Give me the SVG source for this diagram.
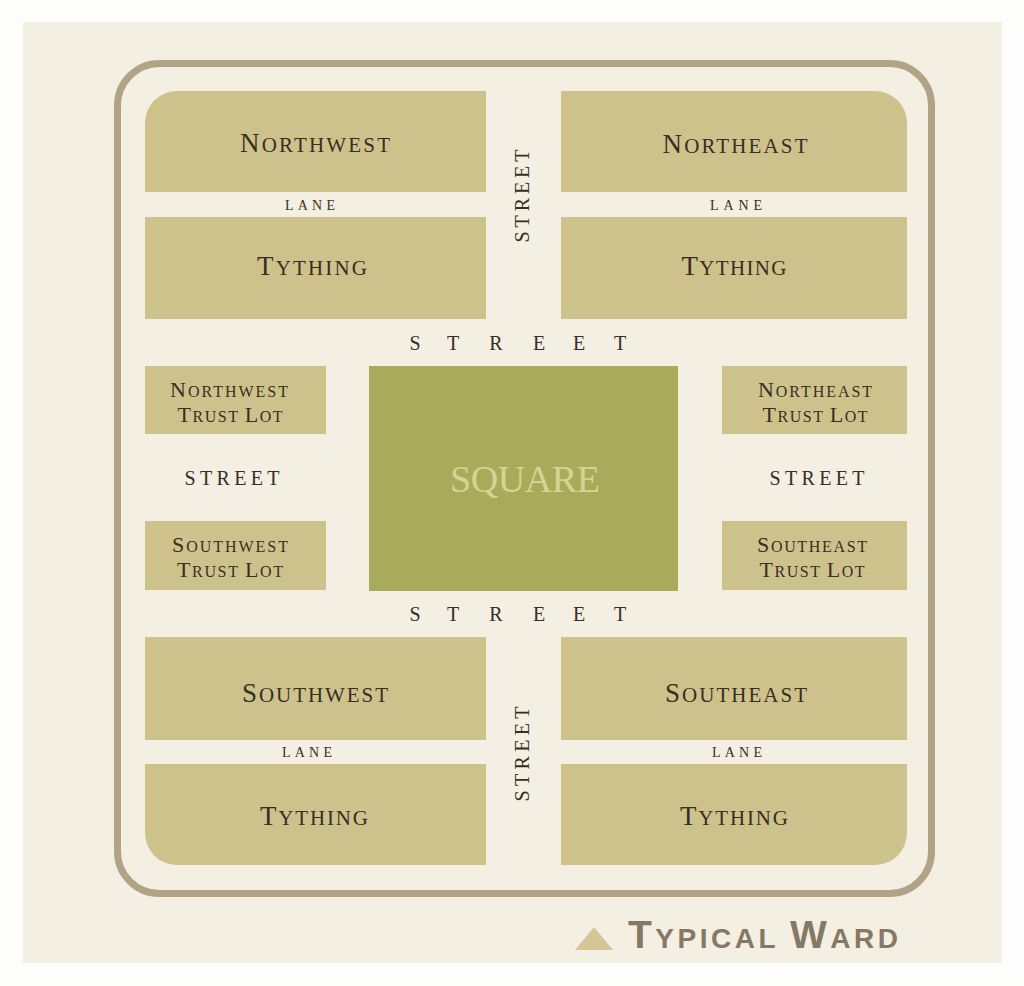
<svg xmlns="http://www.w3.org/2000/svg" width="1024" height="986" viewBox="0 0 1024 986">
<style>
.blk{fill:#cdc28c}
.lbl{font-family:"Liberation Serif",serif;fill:#3a2e22;text-anchor:middle}
.big{font-size:27px}
.sm{font-size:21px}
.tbig{font-size:22px}
.tsm{font-size:16px}
.lane{font-family:"Liberation Serif",serif;fill:#3a2e22;font-size:14px;text-anchor:middle}
.st{font-family:"Liberation Serif",serif;fill:#3a2e22;font-size:20px;text-anchor:middle}
</style>
<rect x="0" y="0" width="1024" height="986" fill="#fdfdfb"/>
<rect x="23" y="22" width="979" height="941" fill="#f3efe3"/>
<rect x="117.5" y="63.5" width="814" height="830" rx="42" fill="none" stroke="#b1a386" stroke-width="7"/>

<g id="nw">
<path class="blk" d="M145,192 V123 A32,32 0 0 1 177,91 H486 V192 Z"/>
<text class="lbl" x="315" y="152" textLength="150" lengthAdjust="spacing"><tspan class="big">N</tspan><tspan class="sm">ORTHWEST</tspan></text>
</g>
<g id="nw-tything">
<rect class="blk" x="145" y="217" width="341" height="102"/>
<text class="lbl" x="312" y="275" textLength="110" lengthAdjust="spacing"><tspan class="big">T</tspan><tspan class="sm">YTHING</tspan></text>
</g>
<g id="ne">
<path class="blk" d="M561,91 H875 A32,32 0 0 1 907,123 V192 H561 Z"/>
<text class="lbl" x="735" y="153" textLength="145" lengthAdjust="spacing"><tspan class="big">N</tspan><tspan class="sm">ORTHEAST</tspan></text>
</g>
<g id="ne-tything">
<rect class="blk" x="561" y="217" width="346" height="102"/>
<text class="lbl" x="734" y="275" textLength="105" lengthAdjust="spacing"><tspan class="big">T</tspan><tspan class="sm">YTHING</tspan></text>
</g>

<g id="nw-trust">
<rect class="blk" x="145" y="366" width="181" height="68"/>
<text class="lbl" x="229" y="397" textLength="118" lengthAdjust="spacing"><tspan class="tbig">N</tspan><tspan class="tsm">ORTHWEST</tspan></text>
<text class="lbl" x="230" y="422" textLength="105" lengthAdjust="spacing"><tspan class="tbig">T</tspan><tspan class="tsm">RUST </tspan><tspan class="tbig">L</tspan><tspan class="tsm">OT</tspan></text>
</g>
<g id="sw-trust">
<rect class="blk" x="145" y="521" width="181" height="69"/>
<text class="lbl" x="230" y="552" textLength="116" lengthAdjust="spacing"><tspan class="tbig">S</tspan><tspan class="tsm">OUTHWEST</tspan></text>
<text class="lbl" x="230" y="577" textLength="106" lengthAdjust="spacing"><tspan class="tbig">T</tspan><tspan class="tsm">RUST </tspan><tspan class="tbig">L</tspan><tspan class="tsm">OT</tspan></text>
</g>
<g id="square">
<rect x="369" y="366" width="309" height="225" fill="#a8ac5a"/>
<text x="525" y="492" font-family="Liberation Serif,serif" font-size="38" fill="#d6d494" text-anchor="middle" textLength="150" lengthAdjust="spacing">SQUARE</text>
</g>
<g id="ne-trust">
<rect class="blk" x="722" y="366" width="185" height="68"/>
<text class="lbl" x="815" y="397" textLength="114" lengthAdjust="spacing"><tspan class="tbig">N</tspan><tspan class="tsm">ORTHEAST</tspan></text>
<text class="lbl" x="815" y="422" textLength="105" lengthAdjust="spacing"><tspan class="tbig">T</tspan><tspan class="tsm">RUST </tspan><tspan class="tbig">L</tspan><tspan class="tsm">OT</tspan></text>
</g>
<g id="se-trust">
<rect class="blk" x="722" y="521" width="185" height="69"/>
<text class="lbl" x="812" y="552" textLength="110" lengthAdjust="spacing"><tspan class="tbig">S</tspan><tspan class="tsm">OUTHEAST</tspan></text>
<text class="lbl" x="812" y="577" textLength="105" lengthAdjust="spacing"><tspan class="tbig">T</tspan><tspan class="tsm">RUST </tspan><tspan class="tbig">L</tspan><tspan class="tsm">OT</tspan></text>
</g>

<g id="sw">
<rect class="blk" x="145" y="637" width="341" height="103"/>
<text class="lbl" x="315" y="702" textLength="146" lengthAdjust="spacing"><tspan class="big">S</tspan><tspan class="sm">OUTHWEST</tspan></text>
</g>
<g id="sw-tything">
<path class="blk" d="M145,764 H486 V865 H177 A32,32 0 0 1 145,833 Z"/>
<text class="lbl" x="314" y="825" textLength="108" lengthAdjust="spacing"><tspan class="big">T</tspan><tspan class="sm">YTHING</tspan></text>
</g>
<g id="se">
<rect class="blk" x="561" y="637" width="346" height="103"/>
<text class="lbl" x="736" y="702" textLength="142" lengthAdjust="spacing"><tspan class="big">S</tspan><tspan class="sm">OUTHEAST</tspan></text>
</g>
<g id="se-tything">
<path class="blk" d="M561,764 H907 V833 A32,32 0 0 1 875,865 H561 Z"/>
<text class="lbl" x="734" y="825" textLength="108" lengthAdjust="spacing"><tspan class="big">T</tspan><tspan class="sm">YTHING</tspan></text>
</g>

<g id="streets">
<text class="lane" x="310" y="210" textLength="50" lengthAdjust="spacing">LANE</text>
<text class="lane" x="736" y="210" textLength="52" lengthAdjust="spacing">LANE</text>
<text class="lane" x="307" y="757" textLength="50" lengthAdjust="spacing">LANE</text>
<text class="lane" x="737" y="757" textLength="50" lengthAdjust="spacing">LANE</text>
<text class="st" transform="translate(529,196) rotate(-90)" x="0" y="0" textLength="93" lengthAdjust="spacing">STREET</text>
<text class="st" transform="translate(529,754) rotate(-90)" x="0" y="0" textLength="95" lengthAdjust="spacing">STREET</text>
<text class="st"><tspan x="415" y="350">S</tspan><tspan x="453" y="350">T</tspan><tspan x="496" y="350">R</tspan><tspan x="539" y="350">E</tspan><tspan x="579" y="350">E</tspan><tspan x="620" y="350">T</tspan></text>
<text class="st"><tspan x="415" y="621">S</tspan><tspan x="453" y="621">T</tspan><tspan x="496" y="621">R</tspan><tspan x="539" y="621">E</tspan><tspan x="579" y="621">E</tspan><tspan x="620" y="621">T</tspan></text>
<text class="st" x="232" y="485" textLength="95" lengthAdjust="spacing">STREET</text>
<text class="st" x="817" y="485" textLength="95" lengthAdjust="spacing">STREET</text>
</g>

<g id="legend">
<polygon points="575,950 613,950 594,927" fill="#d5c597"/>
<text x="628" y="948" font-family="Liberation Sans,sans-serif" font-weight="bold" fill="#857864" textLength="270" lengthAdjust="spacing"><tspan font-size="39">T</tspan><tspan font-size="28">YPICAL </tspan><tspan font-size="39">W</tspan><tspan font-size="28">ARD</tspan></text>
</g>
<g id="connectors"/>
</svg>
